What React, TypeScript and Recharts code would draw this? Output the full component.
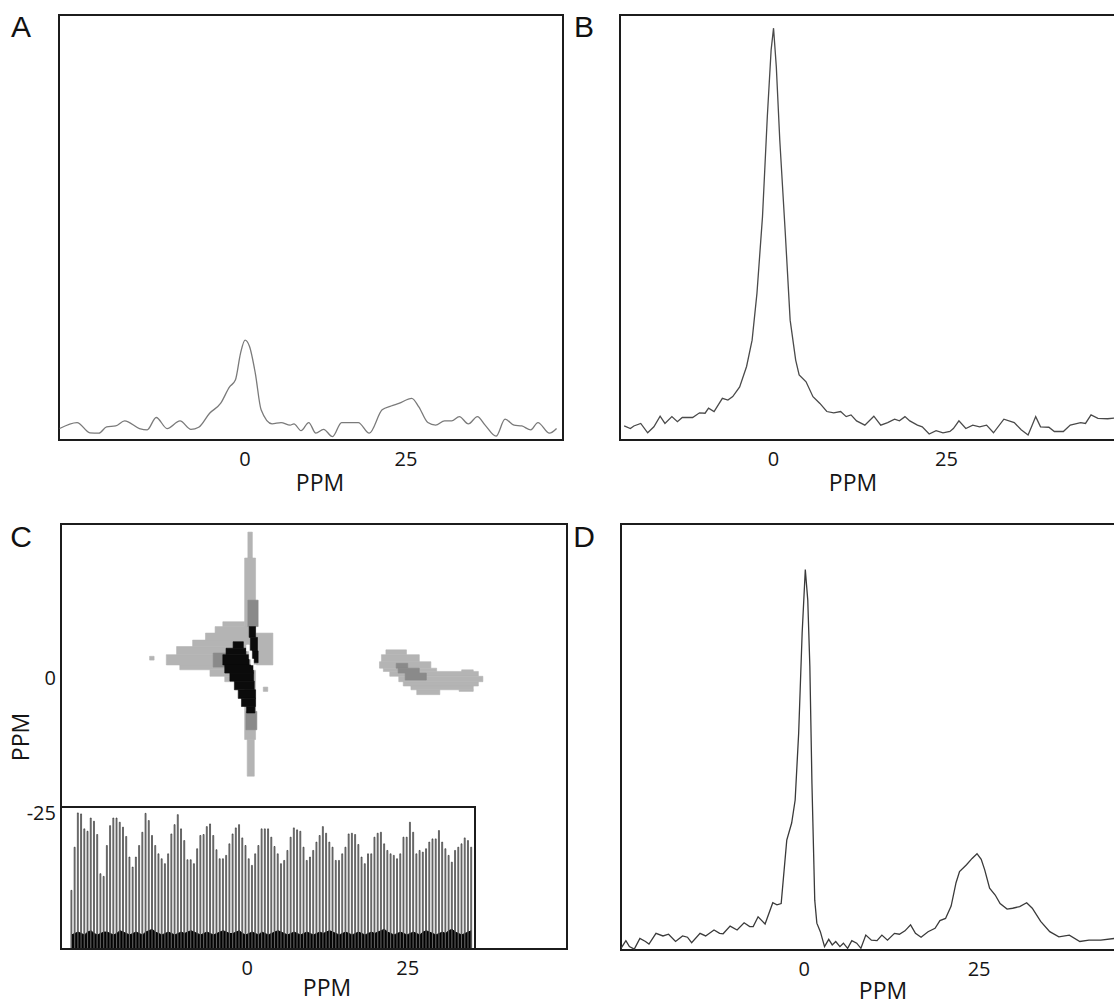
import React from "react";
import {
  LineChart,
  Line,
  ComposedChart,
  Bar,
  Area,
  XAxis,
  YAxis,
  ReferenceArea,
} from "recharts";

// spectra: [ppm, relative intensity (0..100 of the box height)]
const A_TRACE: [number, number][] = [
  [-28.8, 2.7], [-26.1, 4.1], [-24.1, 1.7], [-22.7, 1.6], [-21.5, 3.1], [-20.1, 3.3],
  [-18.7, 4.5], [-16.4, 2.7], [-15.2, 2.4], [-13.8, 5.3], [-12.1, 2.7], [-10.1, 4.5],
  [-8.4, 2.5], [-7.2, 3.0], [-5.5, 6.3], [-3.8, 8.6], [-2.4, 12.5], [-1.5, 14.1],
  [-0.7, 20.4], [0, 23.5], [0.7, 22.0], [1.6, 15.7], [2.5, 7.1], [4.2, 3.8],
  [5.6, 4.1], [7.0, 3.5], [7.6, 3.8], [8.7, 2.2], [9.9, 4.1], [11.0, 1.6],
  [12.2, 2.5], [13.6, 0.8], [15.0, 4.1], [17.6, 4.1], [19.3, 1.6], [21.3, 7.1],
  [22.7, 8.0], [23.9, 8.6], [25.9, 9.8], [27.0, 7.8], [28.4, 4.1], [29.6, 3.5],
  [31.0, 4.5], [32.1, 4.5], [33.3, 5.5], [34.7, 3.8], [36.1, 5.5], [37.3, 3.5],
  [39.0, 0.9], [40.4, 4.9], [41.8, 3.5], [43.0, 3.3], [44.4, 2.4], [45.5, 4.1],
  [47.3, 1.6], [48.4, 2.7],
];

const B_TRACE: [number, number][] = [
  [-21.6, 3.3], [-20.7, 2.7], [-20.2, 3.3], [-19.2, 3.9], [-18.2, 1.7], [-17.3, 3.1],
  [-16.4, 5.6], [-15.7, 3.9], [-14.7, 5.5], [-13.9, 4.3], [-13.2, 5.3], [-11.7, 5.3],
  [-10.7, 6.4], [-9.9, 6.3], [-9.4, 7.5], [-8.6, 6.7], [-7.4, 9.8], [-6.6, 9.4],
  [-5.9, 10.2], [-4.9, 12.5], [-3.9, 17.3], [-3.1, 23.5], [-2.4, 34.5], [-1.6, 52.5],
  [-0.9, 76.1], [-0.35, 91.8], [0, 96.9], [0.4, 87.8], [0.9, 70.6], [1.7, 48.6],
  [2.4, 28.2], [3.2, 18.8], [3.7, 15.3], [4.7, 13.7], [5.7, 10.2], [6.7, 8.6],
  [7.7, 6.7], [8.7, 6.4], [9.7, 6.7], [10.5, 5.5], [11.2, 5.9], [12.0, 4.5],
  [13.2, 3.5], [14.5, 5.6], [15.5, 3.5], [16.5, 4.1], [17.5, 4.9], [18.2, 4.5],
  [19.0, 5.5], [19.7, 4.5], [20.8, 3.5], [21.5, 3.1], [22.5, 1.4], [23.5, 2.2],
  [24.5, 1.7], [25.5, 2.0], [26.0, 2.7], [26.8, 4.5], [27.8, 2.7], [28.8, 3.5],
  [29.8, 3.1], [30.8, 3.5], [31.8, 1.7], [33.3, 4.9], [34.8, 4.1], [35.8, 2.4],
  [36.8, 1.2], [37.3, 3.1], [37.9, 5.5], [38.6, 3.1], [39.8, 3.0], [40.6, 2.0],
  [41.9, 2.0], [42.9, 3.5], [44.4, 4.1], [45.1, 3.9], [45.9, 5.9], [46.9, 5.1],
  [48.3, 5.0], [49.5, 5.2],
];

const D_TRACE: [number, number][] = [
  [-26.2, 0.4], [-25.5, 2.2], [-25.0, 0.8], [-24.3, 0.2], [-23.5, 2.7], [-22.7, 2.0],
  [-22.2, 1.4], [-21.2, 3.9], [-20.2, 3.3], [-19.4, 3.7], [-18.4, 2.0], [-17.4, 3.3],
  [-16.7, 3.0], [-16.1, 1.7], [-14.9, 3.9], [-14.1, 3.3], [-12.9, 4.7], [-12.1, 3.9],
  [-11.6, 3.8], [-10.6, 5.6], [-9.6, 4.7], [-8.6, 6.4], [-7.8, 5.5], [-7.3, 5.5],
  [-6.6, 7.8], [-5.6, 6.1], [-4.5, 11.1], [-3.9, 10.6], [-3.3, 10.9], [-2.5, 25.8],
  [-1.8, 29.8], [-1.3, 35.2], [-0.8, 50.9], [-0.3, 74.4], [0.15, 89.3], [0.5, 82.2],
  [0.8, 66.6], [1.1, 39.1], [1.5, 11.7], [1.8, 6.3], [2.3, 4.3], [2.9, 0.8],
  [3.5, 2.5], [4.0, 1.2], [4.5, 2.0], [5.1, 0.8], [5.6, 1.6], [6.2, 0.4],
  [6.8, 2.2], [7.5, 1.6], [8.1, 0.4], [8.8, 3.5], [9.6, 2.3], [10.4, 2.2],
  [11.1, 3.5], [11.9, 2.3], [12.9, 3.9], [13.6, 3.7], [14.4, 4.5], [15.2, 5.9],
  [15.9, 3.9], [16.7, 3.0], [17.7, 4.3], [18.7, 5.1], [19.4, 6.9], [20.2, 7.4],
  [21.0, 10.3], [21.7, 15.8], [22.2, 18.4], [23.2, 20.0], [24.0, 21.5], [24.7, 22.6],
  [25.3, 21.3], [25.8, 18.8], [26.5, 14.5], [27.3, 12.9], [28.0, 10.9], [29.0, 9.6],
  [29.8, 9.8], [30.8, 10.2], [31.8, 11.1], [32.6, 9.8], [33.8, 6.7], [35.1, 4.3],
  [36.4, 3.1], [37.9, 3.5], [39.4, 2.0], [40.7, 2.3], [42.4, 2.3], [44.3, 2.7],
  [45.5, 2.8],
];

// 2D map, blocky contour cells: [x1, x2, y1, y2] in ppm
const C_LIGHT: number[][] = [
  [0.1, 0.8, 22.2, 27.0], [-0.4, 1.3, -11.4, 22.2], [0.0, 1.1, -18.2, -11.4],
  [-3.8, -0.4, 9.5, 10.4], [-5.0, -0.1, 8.3, 9.5], [-6.5, -0.1, 7.0, 8.3],
  [-8.5, -0.1, 5.8, 7.0], [-11.0, -0.1, 4.3, 5.8], [-12.6, -0.1, 2.4, 4.3],
  [-10.5, -0.1, 1.5, 2.4], [-5.8, 0.0, 0.3, 1.5], [-3.5, 0.0, -0.7, 0.3],
  [1.3, 4.0, 2.4, 8.3], [2.5, 3.2, -2.5, -1.7], [-15.2, -14.5, 3.3, 4.0],
  [21.6, 24.8, 4.3, 5.2], [20.9, 26.8, 3.0, 4.3], [20.6, 28.6, 1.8, 3.0],
  [21.2, 29.5, 1.2, 1.8], [33.4, 35.2, 0.8, 1.5], [22.2, 36.0, 0.3, 1.2],
  [23.6, 36.7, -0.7, 0.3], [24.3, 36.0, -1.5, -0.7], [25.5, 35.2, -2.2, -1.5],
  [26.4, 30.0, -3.1, -2.2], [33.0, 35.2, -2.5, -2.2],
];
const C_MID: number[][] = [
  [0.1, 1.7, 9.5, 14.4], [-5.3, -2.9, 2.0, 4.6], [-0.2, 1.5, -9.6, -6.2],
  [23.2, 25.0, 1.8, 2.7], [23.5, 26.8, 0.9, 1.8], [24.6, 27.9, -0.4, 0.9],
];
const C_DARK: number[][] = [
  [0.3, 1.3, 7.5, 9.5], [0.5, 1.6, 5.0, 7.5], [0.8, 1.7, 2.8, 5.0],
  [-2.2, -0.6, 5.5, 6.7], [-3.3, -0.2, 4.3, 5.5], [-3.8, 0.3, 2.4, 4.3],
  [-3.5, 1.0, 0.9, 2.4], [-2.7, 1.0, -0.6, 0.9], [-2.0, 1.1, -2.2, -0.6],
  [-1.4, 1.3, -3.8, -2.2], [-0.9, 1.3, -5.3, -3.8], [-0.1, 1.2, -6.5, -5.3],
];
const C_GAP: number[][] = [
  [-0.1, 0.3, 5.0, 6.1], [0.3, 0.7, 3.5, 5.0], [0.6, 1.0, 2.4, 3.5], [1.0, 1.4, 1.5, 2.4],
];

// inset trace: peak heights and the dense black floor (0..100 of inset height)
const BAR_HEIGHTS = [
  41.6, 72.2, 96.5, 95.8, 85.2, 83.5, 92.9, 90.6, 81.2, 53.4,
  51.5, 73.4, 87.5, 92.9, 92.9, 89.9, 86.4, 79.8, 65.2, 58.1,
  65.2, 73.4, 82.8, 96.2, 91.1, 80.5, 73.4, 67.5, 64.0, 60.5,
  67.5, 81.6, 88.2, 95.3, 85.2, 76.9, 63.3, 63.3, 60.5, 71.1,
  80.5, 81.2, 86.8, 88.7, 80.5, 70.4, 64.0, 64.0, 66.4, 74.6,
  81.6, 85.9, 88.2, 78.8, 73.4, 64.0, 59.3, 67.5, 73.4, 85.2,
  85.2, 85.2, 79.3, 72.7, 67.5, 60.5, 62.8, 69.9, 79.3, 85.9,
  84.5, 83.5, 72.2, 62.8, 65.2, 69.9, 75.8, 80.5, 86.8, 82.1,
  75.8, 72.2, 62.8, 62.8, 67.5, 72.2, 81.6, 82.1, 81.2, 74.1,
  65.2, 60.5, 67.5, 67.5, 79.3, 82.1, 82.8, 74.6, 69.9, 67.5,
  66.4, 64.0, 67.5, 79.3, 79.3, 89.9, 82.8, 67.5, 69.9, 68.7,
  71.1, 75.8, 78.1, 78.1, 84.0, 75.8, 71.1, 66.4, 61.6, 69.9,
  72.2, 74.6, 78.8, 76.9, 72.2,
];
const BASE_HEIGHTS = [
  10, 11, 12, 11, 10, 12, 13, 11, 10, 11,
  12, 12, 11, 10, 11, 13, 12, 11, 10, 11,
  12, 11, 10, 12, 13, 14, 12, 11, 10, 11,
  12, 11, 10, 11, 12, 11, 12, 13, 12, 11,
  10, 11, 12, 11, 10, 11, 12, 13, 12, 11,
  11, 12, 13, 11, 10, 11, 12, 11, 10, 12,
  11, 10, 11, 12, 13, 12, 11, 10, 11, 12,
  11, 10, 11, 12, 11, 10, 11, 12, 11, 12,
  13, 12, 11, 10, 11, 12, 11, 10, 11, 12,
  11, 10, 11, 12, 11, 12, 13, 14, 12, 11,
  10, 11, 12, 11, 10, 11, 12, 11, 10, 12,
  13, 12, 11, 10, 11, 12, 11, 13, 14, 12,
  11, 10, 11, 12, 13,
];

const X_TICKS = [0, 25];
const Y_TICKS = [-25, 0];

const FONT = "'Open Sans', 'DejaVu Sans', sans-serif";
const PPM_LABEL = { fontSize: 23, fill: "#151515", fontFamily: FONT };
const BOX = "#1c1c1c";

// tick renderers so the digit size sticks
function BottomTick(props: any) {
  const { x, y, payload } = props;
  return (
    <text x={x} y={y} dy="0.71em" textAnchor="middle" fontSize={20} fontFamily={FONT} fill="#151515">
      {payload.value}
    </text>
  );
}
function LeftTick(props: any) {
  const { x, y, payload } = props;
  return (
    <text x={x} y={y} dy="0.36em" textAnchor="end" fontSize={20} fontFamily={FONT} fill="#151515">
      {payload.value}
    </text>
  );
}

type PanelProps = {
  left: number;
  top: number;
  plotW: number;
  plotH: number;
  domain: [number, number];
  trace: [number, number][];
  color: string;
  ppmDx: number;
  axisH: number;
  smooth?: boolean;
};

function SpectrumPanel({ left, top, plotW, plotH, domain, trace, color, ppmDx, axisH, smooth }: PanelProps) {
  const m = 3;
  const data = trace.map(([x, y]) => ({ x, y }));
  return (
    <div style={{ position: "absolute", left: left - m, top: top - m }}>
      <LineChart
        width={plotW + 2 * m}
        height={plotH + m + axisH + 12}
        data={data}
        margin={{ top: m, right: m, bottom: 12, left: m }}
      >
        <XAxis
          dataKey="x"
          type="number"
          domain={domain}
          allowDataOverflow
          ticks={X_TICKS}
          interval={0}
          tickLine={false}
          axisLine={false}
          tickSize={6}
          tickMargin={6}
          height={axisH}
          tick={<BottomTick />}
          label={{ value: "PPM", position: "insideBottom", offset: 0, dx: ppmDx, ...PPM_LABEL }}
        />
        <YAxis type="number" domain={[0, 100]} allowDataOverflow hide />
        <Line
          type={smooth ? "monotone" : "linear"}
          dataKey="y"
          stroke={color}
          strokeWidth={1.3}
          dot={false}
          isAnimationActive={false}
        />
        <ReferenceArea
          x1={domain[0]}
          x2={domain[1]}
          y1={0}
          y2={100}
          fill="none"
          stroke={BOX}
          strokeWidth={2}
          ifOverflow="visible"
        />
      </LineChart>
    </div>
  );
}

const C_X_DOMAIN: [number, number] = [-29, 49.8];
const C_Y_DOMAIN: [number, number] = [-50.2, 28.5];

function cells(list: number[][], fill: string, key: string) {
  return list.map(([x1, x2, y1, y2], i) => (
    <ReferenceArea
      key={key + i}
      x1={x1}
      x2={x2}
      y1={y1}
      y2={y2}
      fill={fill}
      fillOpacity={1}
      stroke={fill}
      strokeWidth={0.6}
      ifOverflow="visible"
    />
  ));
}

function ContourPanel() {
  const m = 3;
  return (
    <div style={{ position: "absolute", left: 0, top: 524 - m }}>
      <ComposedChart
        width={61 + 506 + m}
        height={m + 425 + 47 + 12}
        data={[]}
        margin={{ top: m, right: m, bottom: 12, left: 0 }}
      >
        <XAxis
          dataKey="x"
          type="number"
          domain={C_X_DOMAIN}
          allowDataOverflow
          ticks={X_TICKS}
          interval={0}
          tickLine={false}
          axisLine={false}
          tickSize={6}
          tickMargin={6}
          height={47}
          tick={<BottomTick />}
          label={{ value: "PPM", position: "insideBottom", offset: 0, dx: 13, ...PPM_LABEL }}
        />
        <YAxis
          type="number"
          domain={C_Y_DOMAIN}
          allowDataOverflow
          ticks={Y_TICKS}
          interval={0}
          width={61}
          tickLine={false}
          axisLine={false}
          tickSize={0}
          tickMargin={5}
          tick={<LeftTick />}
        />
        {cells(C_LIGHT, "#b4b4b4", "l")}
        {cells(C_MID, "#8a8a8a", "m")}
        {cells(C_DARK, "#0b0b0b", "d")}
        {cells(C_GAP, "#ffffff", "g")}
        <ReferenceArea
          x1={C_X_DOMAIN[0]}
          x2={C_X_DOMAIN[1]}
          y1={C_Y_DOMAIN[0]}
          y2={C_Y_DOMAIN[1]}
          fill="none"
          stroke={BOX}
          strokeWidth={2}
          ifOverflow="visible"
        />
      </ComposedChart>
    </div>
  );
}

function InsetPanel() {
  const data = BAR_HEIGHTS.map((h, i) => ({ i, h, base: BASE_HEIGHTS[i] }));
  return (
    <div
      style={{
        position: "absolute",
        left: 62,
        top: 806,
        width: 414,
        height: 143,
        boxSizing: "border-box",
        borderTop: `2px solid ${BOX}`,
        borderRight: `2px solid ${BOX}`,
        background: "#fff",
      }}
    >
      <ComposedChart
        width={412}
        height={141}
        data={data}
        margin={{ top: 0, right: 0, bottom: 0, left: 0 }}
        barCategoryGap="28%"
      >
        <XAxis dataKey="i" hide padding={{ left: 8, right: 1 }} />
        <YAxis type="number" domain={[0, 100]} allowDataOverflow hide />
        <Bar dataKey="h" fill="#a8a8a8" stroke="#1e1e1e" strokeWidth={0.6} isAnimationActive={false} />
        <Area
          type="linear"
          dataKey="base"
          fill="#000"
          fillOpacity={1}
          stroke="#000"
          strokeWidth={1}
          isAnimationActive={false}
        />
      </ComposedChart>
    </div>
  );
}

const LETTER = { fontSize: 30, fontFamily: "'Liberation Sans', Arial, sans-serif", fill: "#111" };

export default function App() {
  return (
    <div
      style={{
        position: "absolute",
        left: 0,
        top: 0,
        width: 1114,
        height: 1005,
        overflow: "hidden",
        background: "#fff",
      }}
    >
      <SpectrumPanel
        left={59}
        top={15}
        plotW={504}
        plotH={425}
        domain={[-28.9, 49.4]}
        trace={A_TRACE}
        color="#7a7a7a"
        ppmDx={9}
        axisH={51}
        smooth
      />
      <SpectrumPanel
        left={620}
        top={15}
        plotW={498}
        plotH={425}
        domain={[-22.2, 49.8]}
        trace={B_TRACE}
        color="#4a4a4a"
        ppmDx={-16}
        axisH={51}
      />
      <InsetPanel />
      <ContourPanel />
      <SpectrumPanel
        left={621}
        top={524}
        plotW={498}
        plotH={426}
        domain={[-26.2, 45]}
        trace={D_TRACE}
        color="#3a3a3a"
        ppmDx={13}
        axisH={49}
      />
      <svg
        width={1114}
        height={1005}
        style={{ position: "absolute", left: 0, top: 0, pointerEvents: "none" }}
      >
        <text x={21} y={37} textAnchor="middle" {...LETTER}>A</text>
        <text x={584} y={37} textAnchor="middle" {...LETTER}>B</text>
        <text x={21} y={547} textAnchor="middle" {...LETTER}>C</text>
        <text x={584} y={547} textAnchor="middle" {...LETTER}>D</text>
        <text
          x={20}
          y={737}
          textAnchor="middle"
          dominantBaseline="central"
          transform="rotate(-90 20 737)"
          {...PPM_LABEL}
        >
          PPM
        </text>
      </svg>
    </div>
  );
}
